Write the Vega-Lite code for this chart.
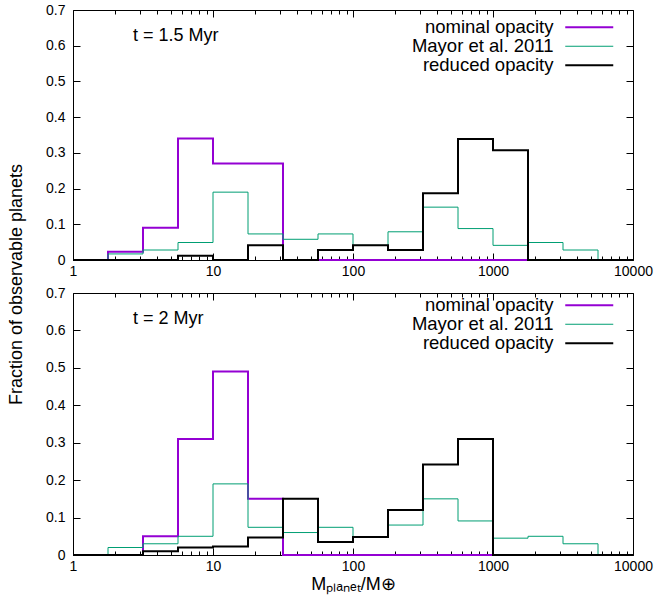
{
  "$schema": "https://vega.github.io/schema/vega-lite/v6.json",
  "autosize": {"type": "pad"},
  "padding": {"left": 6, "top": 2, "right": 5, "bottom": 5},
  "background": "white",
  "config": {
    "view": {"stroke": "black", "strokeWidth": 1},
    "font": "Liberation Sans",
    "axis": {"domain": false, "grid": false, "labelFont": "Liberation Sans", "labelFontSize": 14, "labelColor": "black", "tickColor": "black", "tickWidth": 1, "titleFont": "Liberation Sans", "titleFontSize": 18, "titleFontWeight": "normal", "titleColor": "black", "labelFlush": false, "labelOverlap": false},
    "title": {"font": "Liberation Sans", "fontSize": 18, "fontWeight": "normal", "color": "black", "anchor": "start", "frame": "group"},
    "legend": {"title": null, "orient": "none", "legendX": 507, "legendY": 8, "symbolType": "M-3,0H3", "symbolSize": 256, "labelAlign": "right", "labelOffset": -45, "labelFontSize": 18.5, "labelFont": "Liberation Sans", "labelColor": "black", "rowPadding": 0, "padding": 0, "labelLimit": 0, "symbolFillColor": "transparent"}
  },
  "datasets": {
    "h": [
      {"p": "a", "s": "nominal opacity", "m": 1, "f": 0},
      {"p": "a", "s": "nominal opacity", "m": 1.7783, "f": 0.023},
      {"p": "a", "s": "nominal opacity", "m": 3.1623, "f": 0.09},
      {"p": "a", "s": "nominal opacity", "m": 5.6234, "f": 0.34},
      {"p": "a", "s": "nominal opacity", "m": 10, "f": 0.27},
      {"p": "a", "s": "nominal opacity", "m": 17.783, "f": 0.27},
      {"p": "a", "s": "nominal opacity", "m": 31.623, "f": 0},
      {"p": "a", "s": "nominal opacity", "m": 56.234, "f": 0},
      {"p": "a", "s": "nominal opacity", "m": 100, "f": 0},
      {"p": "a", "s": "nominal opacity", "m": 177.83, "f": 0},
      {"p": "a", "s": "nominal opacity", "m": 316.23, "f": 0},
      {"p": "a", "s": "nominal opacity", "m": 562.34, "f": 0},
      {"p": "a", "s": "nominal opacity", "m": 1000, "f": 0},
      {"p": "a", "s": "nominal opacity", "m": 1778.3, "f": 0},
      {"p": "a", "s": "nominal opacity", "m": 3162.3, "f": 0},
      {"p": "a", "s": "nominal opacity", "m": 5623.4, "f": 0},
      {"p": "a", "s": "nominal opacity", "m": 10000, "f": 0},
      {"p": "a", "s": "Mayor et al. 2011", "m": 1, "f": 0},
      {"p": "a", "s": "Mayor et al. 2011", "m": 1.7783, "f": 0.017},
      {"p": "a", "s": "Mayor et al. 2011", "m": 3.1623, "f": 0.028},
      {"p": "a", "s": "Mayor et al. 2011", "m": 5.6234, "f": 0.049},
      {"p": "a", "s": "Mayor et al. 2011", "m": 10, "f": 0.19},
      {"p": "a", "s": "Mayor et al. 2011", "m": 17.783, "f": 0.073},
      {"p": "a", "s": "Mayor et al. 2011", "m": 31.623, "f": 0.058},
      {"p": "a", "s": "Mayor et al. 2011", "m": 56.234, "f": 0.073},
      {"p": "a", "s": "Mayor et al. 2011", "m": 100, "f": 0.041},
      {"p": "a", "s": "Mayor et al. 2011", "m": 177.83, "f": 0.079},
      {"p": "a", "s": "Mayor et al. 2011", "m": 316.23, "f": 0.148},
      {"p": "a", "s": "Mayor et al. 2011", "m": 562.34, "f": 0.088},
      {"p": "a", "s": "Mayor et al. 2011", "m": 1000, "f": 0.041},
      {"p": "a", "s": "Mayor et al. 2011", "m": 1778.3, "f": 0.049},
      {"p": "a", "s": "Mayor et al. 2011", "m": 3162.3, "f": 0.028},
      {"p": "a", "s": "Mayor et al. 2011", "m": 5623.4, "f": 0},
      {"p": "a", "s": "Mayor et al. 2011", "m": 10000, "f": 0},
      {"p": "a", "s": "reduced opacity", "m": 1, "f": 0},
      {"p": "a", "s": "reduced opacity", "m": 1.7783, "f": 0},
      {"p": "a", "s": "reduced opacity", "m": 3.1623, "f": 0},
      {"p": "a", "s": "reduced opacity", "m": 5.6234, "f": 0.012},
      {"p": "a", "s": "reduced opacity", "m": 10, "f": 0},
      {"p": "a", "s": "reduced opacity", "m": 17.783, "f": 0.041},
      {"p": "a", "s": "reduced opacity", "m": 31.623, "f": 0},
      {"p": "a", "s": "reduced opacity", "m": 56.234, "f": 0.028},
      {"p": "a", "s": "reduced opacity", "m": 100, "f": 0.041},
      {"p": "a", "s": "reduced opacity", "m": 177.83, "f": 0.028},
      {"p": "a", "s": "reduced opacity", "m": 316.23, "f": 0.187},
      {"p": "a", "s": "reduced opacity", "m": 562.34, "f": 0.339},
      {"p": "a", "s": "reduced opacity", "m": 1000, "f": 0.307},
      {"p": "a", "s": "reduced opacity", "m": 1778.3, "f": 0},
      {"p": "a", "s": "reduced opacity", "m": 3162.3, "f": 0},
      {"p": "a", "s": "reduced opacity", "m": 5623.4, "f": 0},
      {"p": "a", "s": "reduced opacity", "m": 10000, "f": 0},
      {"p": "b", "s": "nominal opacity", "m": 1, "f": 0},
      {"p": "b", "s": "nominal opacity", "m": 1.7783, "f": 0},
      {"p": "b", "s": "nominal opacity", "m": 3.1623, "f": 0.05},
      {"p": "b", "s": "nominal opacity", "m": 5.6234, "f": 0.31},
      {"p": "b", "s": "nominal opacity", "m": 10, "f": 0.49},
      {"p": "b", "s": "nominal opacity", "m": 17.783, "f": 0.15},
      {"p": "b", "s": "nominal opacity", "m": 31.623, "f": 0},
      {"p": "b", "s": "nominal opacity", "m": 56.234, "f": 0},
      {"p": "b", "s": "nominal opacity", "m": 100, "f": 0},
      {"p": "b", "s": "nominal opacity", "m": 177.83, "f": 0},
      {"p": "b", "s": "nominal opacity", "m": 316.23, "f": 0},
      {"p": "b", "s": "nominal opacity", "m": 562.34, "f": 0},
      {"p": "b", "s": "nominal opacity", "m": 1000, "f": 0},
      {"p": "b", "s": "nominal opacity", "m": 1778.3, "f": 0},
      {"p": "b", "s": "nominal opacity", "m": 3162.3, "f": 0},
      {"p": "b", "s": "nominal opacity", "m": 5623.4, "f": 0},
      {"p": "b", "s": "nominal opacity", "m": 10000, "f": 0},
      {"p": "b", "s": "Mayor et al. 2011", "m": 1, "f": 0},
      {"p": "b", "s": "Mayor et al. 2011", "m": 1.7783, "f": 0.02},
      {"p": "b", "s": "Mayor et al. 2011", "m": 3.1623, "f": 0.03},
      {"p": "b", "s": "Mayor et al. 2011", "m": 5.6234, "f": 0.05},
      {"p": "b", "s": "Mayor et al. 2011", "m": 10, "f": 0.19},
      {"p": "b", "s": "Mayor et al. 2011", "m": 17.783, "f": 0.074},
      {"p": "b", "s": "Mayor et al. 2011", "m": 31.623, "f": 0.06},
      {"p": "b", "s": "Mayor et al. 2011", "m": 56.234, "f": 0.074},
      {"p": "b", "s": "Mayor et al. 2011", "m": 100, "f": 0.047},
      {"p": "b", "s": "Mayor et al. 2011", "m": 177.83, "f": 0.08},
      {"p": "b", "s": "Mayor et al. 2011", "m": 316.23, "f": 0.15},
      {"p": "b", "s": "Mayor et al. 2011", "m": 562.34, "f": 0.091},
      {"p": "b", "s": "Mayor et al. 2011", "m": 1000, "f": 0.045},
      {"p": "b", "s": "Mayor et al. 2011", "m": 1778.3, "f": 0.05},
      {"p": "b", "s": "Mayor et al. 2011", "m": 3162.3, "f": 0.03},
      {"p": "b", "s": "Mayor et al. 2011", "m": 5623.4, "f": 0},
      {"p": "b", "s": "Mayor et al. 2011", "m": 10000, "f": 0},
      {"p": "b", "s": "reduced opacity", "m": 1, "f": 0},
      {"p": "b", "s": "reduced opacity", "m": 1.7783, "f": 0},
      {"p": "b", "s": "reduced opacity", "m": 3.1623, "f": 0.01},
      {"p": "b", "s": "reduced opacity", "m": 5.6234, "f": 0.02},
      {"p": "b", "s": "reduced opacity", "m": 10, "f": 0.023},
      {"p": "b", "s": "reduced opacity", "m": 17.783, "f": 0.047},
      {"p": "b", "s": "reduced opacity", "m": 31.623, "f": 0.15},
      {"p": "b", "s": "reduced opacity", "m": 56.234, "f": 0.035},
      {"p": "b", "s": "reduced opacity", "m": 100, "f": 0.048},
      {"p": "b", "s": "reduced opacity", "m": 177.83, "f": 0.12},
      {"p": "b", "s": "reduced opacity", "m": 316.23, "f": 0.242},
      {"p": "b", "s": "reduced opacity", "m": 562.34, "f": 0.31},
      {"p": "b", "s": "reduced opacity", "m": 1000, "f": 0},
      {"p": "b", "s": "reduced opacity", "m": 1778.3, "f": 0},
      {"p": "b", "s": "reduced opacity", "m": 3162.3, "f": 0},
      {"p": "b", "s": "reduced opacity", "m": 5623.4, "f": 0},
      {"p": "b", "s": "reduced opacity", "m": 10000, "f": 0}
    ]
  },
  "spacing": 33,
  "bounds": "flush",
  "resolve": {"scale": {"color": "independent", "strokeWidth": "independent"}, "legend": {"color": "independent", "strokeWidth": "independent"}},
  "vconcat": [
    {
      "width": 560,
      "height": 250,
      "title": {"text": "t = 1.5 Myr", "offset": -56, "dx": 60, "baseline": "alphabetic"},
      "data": {"name": "h"},
      "transform": [{"filter": "datum.p == 'a'"}],
      "layer": [
        {
          "mark": {"type": "line", "interpolate": "step-after"},
          "encoding": {
            "x": {"field": "m", "type": "quantitative", "scale": {"type": "log", "domain": [1, 10000]},
              "axis": {"orient": "bottom", "title": null, "values": [1,2,3,4,5,6,7,8,9,10,20,30,40,50,60,70,80,90,100,200,300,400,500,600,700,800,900,1000,2000,3000,4000,5000,6000,7000,8000,9000,10000], "format": "d",
                "labelExpr": "(datum.value == 1 || datum.value == 10 || datum.value == 100 || datum.value == 1000 || datum.value == 10000) ? datum.label : ''",
                "tickSize": {"condition": {"test": "datum.value == 1 || datum.value == 10 || datum.value == 100 || datum.value == 1000 || datum.value == 10000", "value": -7}, "value": -4},
                "labelPadding": 11}},
            "y": {"field": "f", "type": "quantitative", "scale": {"domain": [0, 0.7]},
              "axis": {"orient": "left", "values": [0,0.1,0.2,0.3,0.4,0.5,0.6,0.7], "format": "~g", "tickSize": -7, "labelPadding": 15,
                "title": "Fraction of observable planets", "titleX": -52, "titleY": 274, "titleAngle": -90, "titleAlign": "center", "titleBaseline": "alphabetic"}},
            "color": {"field": "s", "type": "nominal", "scale": {"domain": ["nominal opacity", "Mayor et al. 2011", "reduced opacity"], "range": ["#9400D3", "#009E73", "#000000"]}, "legend": {"legendY": 8}},
            "strokeWidth": {"field": "s", "type": "nominal", "scale": {"type": "ordinal", "domain": ["nominal opacity", "Mayor et al. 2011", "reduced opacity"], "range": [2, 1, 2]}, "legend": {"legendY": 8}}
          }
        },
        {
          "transform": [{"filter": "false"}],
          "mark": {"type": "line"},
          "encoding": {
            "x": {"field": "m", "type": "quantitative", "scale": {"type": "log", "domain": [1, 10000]},
              "axis": {"orient": "top", "title": null, "labels": false, "values": [1,2,3,4,5,6,7,8,9,10,20,30,40,50,60,70,80,90,100,200,300,400,500,600,700,800,900,1000,2000,3000,4000,5000,6000,7000,8000,9000,10000],
                "tickSize": {"condition": {"test": "datum.value == 1 || datum.value == 10 || datum.value == 100 || datum.value == 1000 || datum.value == 10000", "value": -7}, "value": -4}}},
            "y": {"field": "f", "type": "quantitative", "scale": {"domain": [0, 0.7]},
              "axis": {"orient": "right", "title": null, "labels": false, "values": [0,0.1,0.2,0.3,0.4,0.5,0.6,0.7], "tickSize": -7}}
          }
        }
      ],
      "resolve": {"axis": {"x": "independent", "y": "independent"}}
    },
    {
      "width": 560,
      "height": 262,
      "title": {"text": "t = 2 Myr", "offset": -56, "dx": 60, "baseline": "alphabetic"},
      "data": {"name": "h"},
      "transform": [{"filter": "datum.p == 'b'"}],
      "layer": [
        {
          "mark": {"type": "line", "interpolate": "step-after"},
          "encoding": {
            "x": {"field": "m", "type": "quantitative", "scale": {"type": "log", "domain": [1, 10000]},
              "axis": {"orient": "bottom", "title": "Mₚₗₐₙₑₜ/M⊕", "values": [1,2,3,4,5,6,7,8,9,10,20,30,40,50,60,70,80,90,100,200,300,400,500,600,700,800,900,1000,2000,3000,4000,5000,6000,7000,8000,9000,10000], "format": "d",
                "labelExpr": "(datum.value == 1 || datum.value == 10 || datum.value == 100 || datum.value == 1000 || datum.value == 10000) ? datum.label : ''",
                "tickSize": {"condition": {"test": "datum.value == 1 || datum.value == 10 || datum.value == 100 || datum.value == 1000 || datum.value == 10000", "value": -7}, "value": -4},
                "labelPadding": 11, "titlePadding": -1}},
            "y": {"field": "f", "type": "quantitative", "scale": {"domain": [0, 0.7]},
              "axis": {"orient": "left", "values": [0,0.1,0.2,0.3,0.4,0.5,0.6,0.7], "format": "~g", "tickSize": -7, "labelPadding": 15, "title": null}},
            "color": {"field": "s", "type": "nominal", "scale": {"domain": ["nominal opacity", "Mayor et al. 2011", "reduced opacity"], "range": ["#9400D3", "#009E73", "#000000"]}, "legend": {"legendY": 3}},
            "strokeWidth": {"field": "s", "type": "nominal", "scale": {"type": "ordinal", "domain": ["nominal opacity", "Mayor et al. 2011", "reduced opacity"], "range": [2, 1, 2]}, "legend": {"legendY": 3}}
          }
        },
        {
          "transform": [{"filter": "false"}],
          "mark": {"type": "line"},
          "encoding": {
            "x": {"field": "m", "type": "quantitative", "scale": {"type": "log", "domain": [1, 10000]},
              "axis": {"orient": "top", "title": null, "labels": false, "values": [1,2,3,4,5,6,7,8,9,10,20,30,40,50,60,70,80,90,100,200,300,400,500,600,700,800,900,1000,2000,3000,4000,5000,6000,7000,8000,9000,10000],
                "tickSize": {"condition": {"test": "datum.value == 1 || datum.value == 10 || datum.value == 100 || datum.value == 1000 || datum.value == 10000", "value": -7}, "value": -4}}},
            "y": {"field": "f", "type": "quantitative", "scale": {"domain": [0, 0.7]},
              "axis": {"orient": "right", "title": null, "labels": false, "values": [0,0.1,0.2,0.3,0.4,0.5,0.6,0.7], "tickSize": -7}}
          }
        }
      ],
      "resolve": {"axis": {"x": "independent", "y": "independent"}}
    }
  ]
}
